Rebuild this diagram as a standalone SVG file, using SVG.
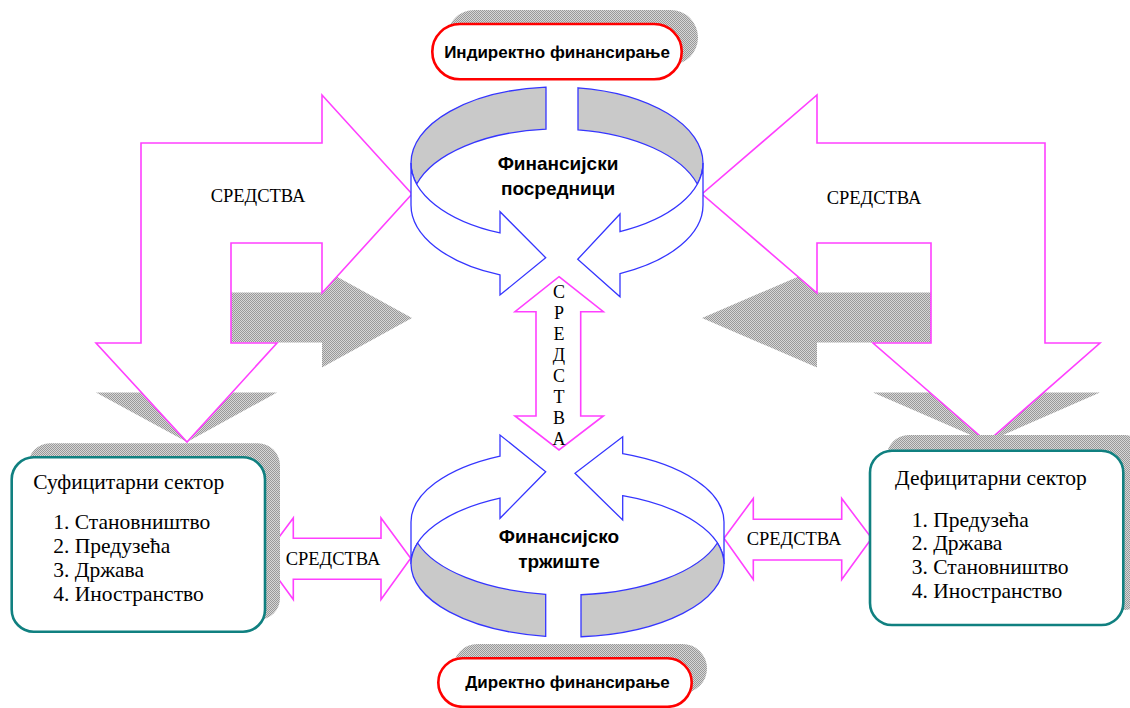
<svg xmlns="http://www.w3.org/2000/svg" width="1130" height="708" viewBox="0 0 1130 708">
<defs>
<pattern id="dither" width="2" height="2" patternUnits="userSpaceOnUse">
<rect width="2" height="2" fill="#d6d6d6"/>
<rect width="1" height="1" fill="#999999"/>
<rect x="1" y="1" width="1" height="1" fill="#999999"/>
</pattern>
</defs>
<style>
.arrow{fill:#fff;stroke:#ff40ff;stroke-width:1.6;stroke-linejoin:miter}
.shadow{fill:url(#dither);stroke:none}
.ring{fill:#fff;stroke:#3535ff;stroke-width:1.3}
.ringg{fill:#c9c9c9;stroke:#3535ff;stroke-width:1.3}
.oval{fill:#fff;stroke:#ff0000;stroke-width:2.6}
.box{fill:#fff;stroke:#108080;stroke-width:2.6}
.serif{font-family:"Liberation Serif","Times New Roman",serif;fill:#000}
.sans{font-family:"Liberation Sans",Arial,sans-serif;font-weight:bold;fill:#000}
.lbl{font-size:18.5px;text-anchor:middle}
.boxt{font-size:21.5px}
.ringt{font-size:19px;text-anchor:middle}
.ovalt{font-size:17px;text-anchor:middle}
</style>
<rect width="1130" height="708" fill="#fff"/>

<g id="connectors">
<polygon class="shadow" points="141,292.5 322,292.5 322,268.5 412,318 322,367.5 322,342.5 231,342.5 231,392.5 277,392.5 187,442 96,392.5 141,392.5"/>
<polygon class="shadow" points="1045,292.5 817,292.5 817,268.5 702,318 817,367.5 817,342.5 931,342.5 931,392.5 873,392.5 987,442 1100,392.5 1045,392.5"/>
<polygon class="arrow" points="141,143 322,143 322,95 412,194 322,293 322,243 231,243 231,343 277,343 187,442 96,343 141,343"/>
<polygon class="arrow" points="1045,143 817,143 817,95 702,194 817,293 817,243 931,243 931,343 873,343 987,442 1100,343 1045,343"/>
<text class="serif lbl" x="258" y="202">СРЕДСТВА</text>
<text class="serif lbl" x="874" y="204">СРЕДСТВА</text>
<polygon class="arrow" points="559,276.7 603.3,311.7 580.7,311.7 580.7,416 603.3,416 559,450 515,416 536,416 536,311.7 515,311.7"/>
<g class="serif" font-size="18" text-anchor="middle">
<text x="559" y="297.5">С</text>
<text x="559" y="318.6">Р</text>
<text x="559" y="339.7">Е</text>
<text x="559" y="360.8">Д</text>
<text x="559" y="381.9">С</text>
<text x="559" y="403">Т</text>
<text x="559" y="424.1">В</text>
<text x="559" y="445.2">А</text>
</g>
<polygon class="arrow" points="263.3,558.3 293.3,518 293.3,538.3 381,538.3 381,518 410.7,558.3 381,599.5 381,579.3 293.3,579.3 293.3,599.5"/>
<text class="serif lbl" x="333" y="565">СРЕДСТВА</text>
<polygon class="arrow" points="724,538.3 753.3,498.5 753.3,519.3 841.7,519.3 841.7,498.5 871.7,538.3 841.7,579.5 841.7,560 753.3,560 753.3,579.5"/>
<text class="serif lbl" x="794" y="545">СРЕДСТВА</text>
</g>

<g id="indirect">
<rect class="shadow" x="447" y="10" width="251" height="55" rx="27.5"/>
<rect class="oval" x="432.3" y="24" width="249.4" height="55.3" rx="27.6"/>
<text class="sans ovalt" x="557" y="58">Индиректно финансирање</text>
</g>

<g id="direct">
<rect class="shadow" x="453" y="644" width="254" height="49" rx="24.5"/>
<rect class="oval" x="438.3" y="658.3" width="253.4" height="48.5" rx="24.2"/>
<text class="sans ovalt" x="567.5" y="688">Директно финансирање</text>
</g>

<g id="intermediaries">
<path class="ringg" d="M411,163 A146 76 0 0 1 546,87.22 L546,129.22 A146 76 0 0 0 416.68,184 A146 76 0 0 1 411,163 Z"/>
<path class="ringg" d="M578,87.79 A146 76 0 0 1 703,163 A146 76 0 0 1 697.32,184 A146 76 0 0 0 578,129.79 Z"/>
<path class="ring" d="M411,163 L411,205 A146 76 0 0 0 500,274.97 L500,295 L545.7,257.7 L500,211.7 L500,232.97 A146 76 0 0 1 411,163 Z"/>
<path class="ring" d="M703,163 L703,205 A146 76 0 0 1 620,273.56 L620,296.7 L577.7,259.3 L620,214 L620,231.56 A146 76 0 0 0 703,163 Z"/>
<text class="sans ringt" x="558" y="170">Финансијски</text>
<text class="sans ringt" x="558" y="195">посредници</text>
</g>

<g id="market">
<path class="ring" d="M411,564 L411,522 A156.5 73 0 0 1 500,456.14 L500,435 L545.7,471.7 L500,518.3 L500,498.14 A156.5 73 0 0 0 411,564 Z"/>
<path class="ring" d="M724,564 L724,522 A156.5 73 0 0 0 622.7,453.69 L622.7,436.7 L575,473.3 L622.7,520 L622.7,495.69 A156.5 73 0 0 1 724,564 Z"/>
<path class="ringg" d="M411,564 A156.5 73 0 0 0 545.7,636.29 L545.7,594.29 A156.5 73 0 0 1 417.62,543 A156.5 73 0 0 0 411,564 Z"/>
<path class="ringg" d="M581,636.73 A156.5 73 0 0 0 724,564 A156.5 73 0 0 0 717.38,543 A156.5 73 0 0 1 581,594.73 Z"/>
<text class="sans ringt" x="559" y="543">Финансијско</text>
<text class="sans ringt" x="559" y="568">тржиште</text>
</g>

<g id="surplus">
<rect class="shadow" x="28" y="443.3" width="252" height="176.7" rx="22"/>
<rect class="box" x="11.7" y="457.3" width="253.3" height="174.4" rx="22"/>
<text class="serif boxt" x="33.3" y="489.3">Суфицитарни сектор</text>
<text class="serif boxt" x="53.3" y="529.3">1. Становништво</text>
<text class="serif boxt" x="53.3" y="553.3">2. Предузећа</text>
<text class="serif boxt" x="53.3" y="577.3">3. Држава</text>
<text class="serif boxt" x="53.3" y="601">4. Иностранство</text>
</g>

<g id="deficit">
<rect class="shadow" x="886.7" y="435" width="260" height="175" rx="22"/>
<rect class="box" x="870" y="450.7" width="253.3" height="174.3" rx="22"/>
<text class="serif boxt" x="895" y="485">Дефицитарни сектор</text>
<text class="serif boxt" x="911.7" y="526.7">1. Предузећа</text>
<text class="serif boxt" x="911.7" y="550">2. Држава</text>
<text class="serif boxt" x="911.7" y="574">3. Становништво</text>
<text class="serif boxt" x="911.7" y="598.3">4. Иностранство</text>
</g>
</svg>
